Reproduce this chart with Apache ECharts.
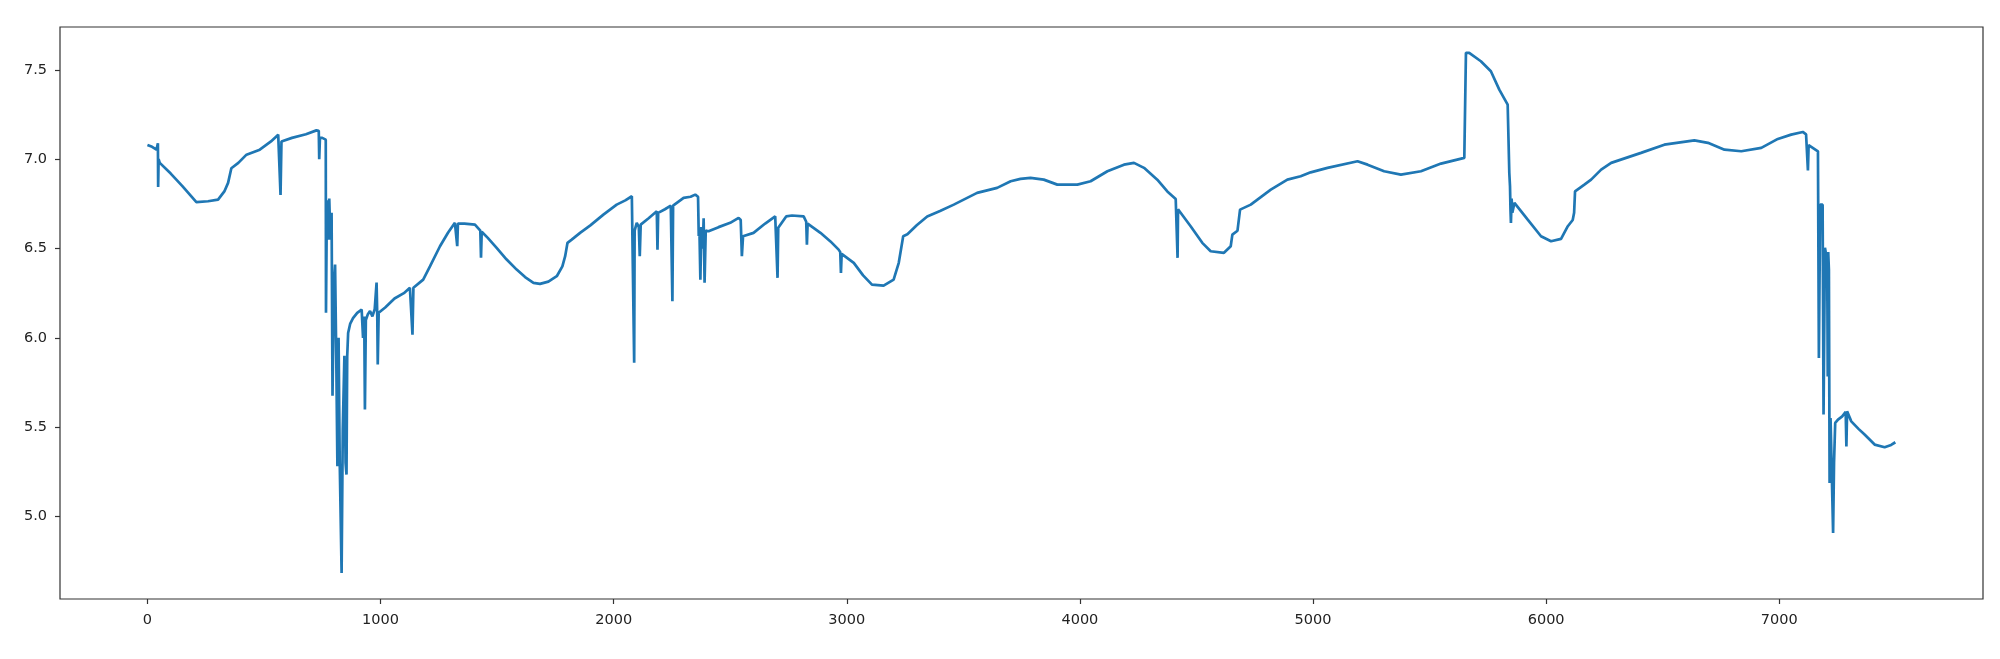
<!DOCTYPE html>
<html>
<head>
<meta charset="utf-8" />
<title>line</title>
<script src="https://cdn.jsdelivr.net/npm/echarts@6/dist/echarts.min.js"></script>
<style>
  html,
  body {
    margin: 0;
    padding: 0;
    background: #fff;
  }
  #main {
    width: 2000px;
    height: 659px;
  }
</style>
</head>
<body>
<div id="main"></div>
<script>
// values, [x, y]
var startSeg = [
  [0, 7.08], [20, 7.07], [39, 7.054], [44, 7.05], [45, 7.09], [46, 6.845], [48, 7.0],
  [53, 6.98], [100, 6.92], [150, 6.85], [210, 6.76], [260, 6.765], [303, 6.774],
  [330, 6.82], [346, 6.868], [360, 6.95], [390, 6.98], [425, 7.026], [482, 7.054],
  [530, 7.1], [561, 7.138], [568, 7.14], [571, 6.8], [575, 7.1], [620, 7.12],
  [680, 7.14], [725, 7.162], [735, 7.16], [737, 7.0], [740, 7.12], [750, 7.12], [765, 7.11]
];
var crashSeg = [
  [766, 6.14], [770, 6.77], [775, 6.55], [780, 6.78], [785, 6.55], [790, 6.7],
  [794, 5.676], [800, 6.3], [805, 6.41], [810, 5.9], [815, 5.28], [820, 6.0],
  [825, 5.3], [833, 4.683], [838, 5.486], [845, 5.9], [850, 5.3], [854, 5.234],
  [857, 5.896], [861, 6.027], [870, 6.08], [882, 6.11], [900, 6.14], [919, 6.158],
  [925, 6.0], [930, 6.12], [933, 5.598], [937, 6.1], [945, 6.13], [955, 6.15],
  [965, 6.12], [975, 6.16], [983, 6.31], [986, 6.12], [988, 5.85], [992, 6.14],
  [1020, 6.17], [1060, 6.22], [1100, 6.25], [1126, 6.28], [1133, 6.28], [1137, 6.018],
  [1141, 6.28], [1183, 6.326], [1212, 6.4], [1255, 6.513]
];
var riseSeg = [
  [1290, 6.59], [1319, 6.644], [1327, 6.64], [1329, 6.513], [1332, 6.64], [1360, 6.64],
  [1405, 6.634], [1428, 6.6], [1431, 6.448], [1434, 6.594], [1460, 6.56], [1498, 6.504],
  [1540, 6.44], [1584, 6.382], [1620, 6.34], [1656, 6.308], [1684, 6.302], [1720, 6.315],
  [1756, 6.345], [1780, 6.4], [1792, 6.457], [1802, 6.532], [1820, 6.55], [1856, 6.588],
  [1900, 6.63], [1956, 6.69], [2013, 6.746], [2050, 6.77], [2078, 6.793], [2085, 6.79]
];
var spikeSeg = [
  [2088, 5.86], [2090, 6.6], [2099, 6.644], [2108, 6.62], [2112, 6.457], [2116, 6.634],
  [2150, 6.67], [2185, 6.709], [2188, 6.494], [2191, 6.7], [2220, 6.72], [2245, 6.74],
  [2250, 6.74], [2252, 6.205], [2255, 6.74], [2300, 6.784], [2330, 6.79], [2350, 6.802],
  [2362, 6.79], [2365, 6.57], [2368, 6.6], [2372, 6.326], [2376, 6.62], [2382, 6.5],
  [2386, 6.67], [2390, 6.308], [2395, 6.6], [2407, 6.597], [2450, 6.62], [2500, 6.644],
  [2536, 6.672], [2545, 6.66], [2550, 6.457], [2555, 6.569], [2600, 6.588], [2650, 6.64],
  [2693, 6.68], [2700, 6.685], [2703, 6.336], [2706, 6.616], [2740, 6.68], [2765, 6.685],
  [2815, 6.68], [2826, 6.65], [2829, 6.522], [2832, 6.64], [2887, 6.588], [2930, 6.54],
  [2965, 6.494], [2972, 6.48], [2975, 6.364], [2978, 6.47], [3030, 6.42], [3070, 6.35],
  [3108, 6.298], [3158, 6.292], [3201, 6.326], [3223, 6.42], [3242, 6.569], [3260, 6.58]
];
var plateauSeg = [
  [3300, 6.63], [3345, 6.68], [3400, 6.71], [3459, 6.746], [3559, 6.812], [3645, 6.84],
  [3703, 6.877], [3745, 6.89], [3788, 6.896], [3845, 6.886], [3903, 6.858], [3989, 6.858],
  [4046, 6.877], [4118, 6.933], [4189, 6.97], [4232, 6.98], [4275, 6.952], [4332, 6.886],
  [4375, 6.82], [4411, 6.778], [4416, 6.77], [4419, 6.448], [4421, 6.72], [4475, 6.625],
  [4525, 6.532], [4561, 6.485], [4618, 6.476], [4647, 6.513], [4654, 6.578], [4676, 6.6],
  [4687, 6.718], [4733, 6.746], [4819, 6.83], [4890, 6.886], [4947, 6.905], [4990, 6.927],
  [5062, 6.952], [5191, 6.989], [5234, 6.97], [5305, 6.933], [5377, 6.914], [5463, 6.933],
  [5549, 6.976], [5649, 7.008], [5654, 7.01]
];
var peakSeg = [
  [5656, 7.596], [5670, 7.596], [5720, 7.549], [5763, 7.493], [5799, 7.39], [5835, 7.306],
  [5840, 7.3], [5842, 6.924], [5845, 6.85], [5847, 6.72], [5849, 6.644], [5852, 6.78],
  [5855, 6.7], [5864, 6.756], [5921, 6.662], [5978, 6.569], [6021, 6.541], [6064, 6.554],
  [6093, 6.625], [6114, 6.66], [6120, 6.7], [6124, 6.82], [6164, 6.858], [6193, 6.886],
  [6236, 6.942], [6279, 6.98], [6407, 7.036], [6507, 7.082], [6636, 7.106], [6694, 7.092],
  [6765, 7.054], [6837, 7.045], [6923, 7.064], [6994, 7.114], [7051, 7.138], [7101, 7.153],
  [7115, 7.14], [7121, 7.14], [7123, 6.938], [7126, 7.08], [7130, 7.073], [7166, 7.045]
];
var endSeg = [
  [7170, 5.887], [7174, 6.5], [7176, 6.746], [7186, 6.746], [7190, 5.57], [7196, 6.504],
  [7203, 6.45], [7206, 6.33], [7208, 5.784], [7210, 6.48], [7213, 6.382], [7216, 5.187],
  [7220, 5.55], [7226, 5.2], [7231, 4.907], [7235, 5.3], [7240, 5.523], [7252, 5.542],
  [7270, 5.56], [7285, 5.585], [7288, 5.392], [7291, 5.588], [7309, 5.532], [7340, 5.49],
  [7366, 5.458], [7409, 5.402], [7452, 5.387], [7480, 5.4], [7498, 5.415]
];

var xTicks = [0, 1000, 2000, 3000, 4000, 5000, 6000, 7000];
var yTicks = [5.0, 5.5, 6.0, 6.5, 7.0, 7.5];

var trace = [].concat(startSeg, crashSeg, riseSeg, spikeSeg, plateauSeg, peakSeg, endSeg);

var chart = echarts.init(document.getElementById("main"));
var tickLabel = {
  fontFamily: "DejaVu Sans",
  fontSize: 14.5,
  color: "#222",
};
var tickLine = {
  show: true,
  length: 5,
  lineStyle: { color: "#333", width: 1.2 },
};
var option = {
  animation: false,
  grid: {
    left: 60,
    right: 17,
    top: 27,
    bottom: 60,
    show: true,
    borderColor: "#333",
    borderWidth: 1.2,
  },
  xAxis: {
    type: "value",
    min: -375,
    max: 7874,
    splitLine: { show: false },
    axisLine: { show: false, onZero: false },
    axisTick: Object.assign({ customValues: xTicks }, tickLine),
    axisLabel: Object.assign(
      {
        margin: 14,
        customValues: xTicks,
        formatter: function (v) {
          return String(v);
        },
      },
      tickLabel
    ),
  },
  yAxis: {
    type: "value",
    min: 4.537,
    max: 7.741,
    splitLine: { show: false },
    axisLine: { show: false, onZero: false },
    axisTick: Object.assign({ customValues: yTicks }, tickLine),
    axisLabel: Object.assign(
      {
        margin: 13,
        customValues: yTicks,
        formatter: function (v) {
          return v.toFixed(1);
        },
      },
      tickLabel
    ),
  },
  series: [
    {
      type: "line",
      data: trace,
      showSymbol: false,
      lineStyle: { color: "#1f77b4", width: 2.7 },
      emphasis: { disabled: true },
    },
  ],
};
chart.setOption(option);
</script>
</body>
</html>
